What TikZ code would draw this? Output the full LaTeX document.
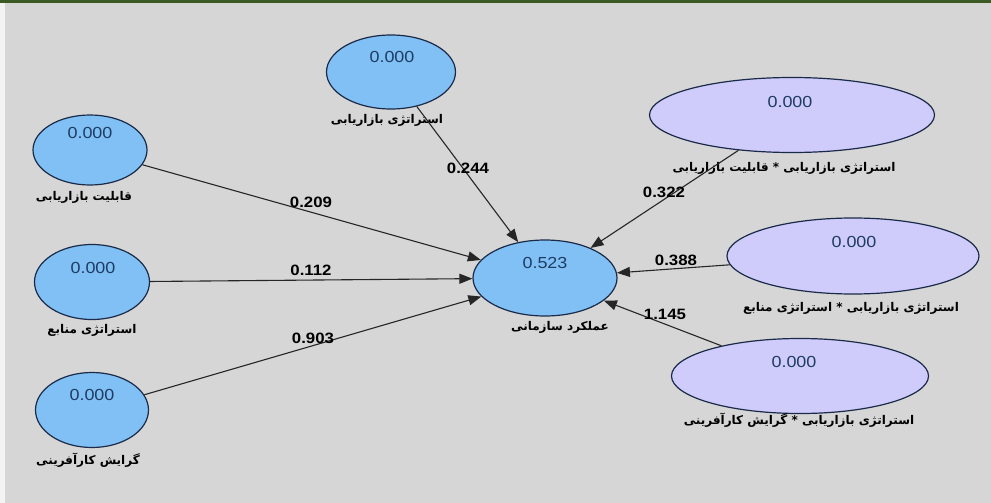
\documentclass[tikz,border=0pt]{standalone}
\usepackage{fontspec}
\usetikzlibrary{shapes.geometric,arrows.meta}
\TeXXeTstate=1
\newfontfamily\numfont[FakeStretch=1.12]{Liberation Sans}
\newfontfamily\fafont[Script=Arabic]{DejaVu Sans}
\definecolor{bgcol}{HTML}{D6D6D6}
\definecolor{bandcol}{HTML}{3B5A26}
\definecolor{lvblue}{HTML}{80C0F4}
\definecolor{lvlav}{HTML}{CFCBFA}
\definecolor{lvline}{HTML}{1B2A48}
\definecolor{valcol}{HTML}{1F3C64}
\tikzset{
  latent/.style={ellipse, draw=lvline, line width=1.2pt, inner sep=0pt},
  blue lv/.style={latent, fill=lvblue},
  lav lv/.style={latent, fill=lvlav},
  valtext/.style={font=\numfont\fontsize{16}{18}\selectfont, text=valcol, inner sep=0pt},
  coeftext/.style={font=\numfont\bfseries\fontsize{15}{17}\selectfont, text=black, inner sep=0pt},
  falabel/.style={font=\fafont\bfseries\fontsize{12}{14}\selectfont, text=black, inner sep=0pt},
  coefarrow/.style={draw=black!85, line width=1.1pt, -{Triangle[length=13pt,width=10pt]}},
}
\begin{document}
\begin{tikzpicture}[x=1pt,y=-1pt]
% canvas
\fill[bgcol] (0,0) rectangle (991,503);
\fill[white!70!bgcol] (0,3) rectangle (5,503);
\fill[bandcol] (0,0) rectangle (991,3);
\useasboundingbox (0,0) rectangle (991,503);

% latent variables
\node[blue lv, minimum width=129pt, minimum height=74pt] (ms) at (391,72) {};
\node[blue lv, minimum width=114pt, minimum height=70pt] (mc) at (90,150) {};
\node[blue lv, minimum width=115pt, minimum height=75pt] (rs) at (92,282) {};
\node[blue lv, minimum width=113pt, minimum height=75pt] (eo) at (92,410) {};
\node[blue lv, minimum width=144pt, minimum height=76pt] (op) at (545,278) {};
\node[lav lv, minimum width=285pt, minimum height=75pt] (msmc) at (792,115) {};
\node[lav lv, minimum width=252pt, minimum height=76pt] (msrs) at (853,256) {};
\node[lav lv, minimum width=257pt, minimum height=75pt] (mseo) at (800,376) {};

% R-square values
\node[valtext] (vms) at (392,57) {0.000};
\node[valtext] (vmc) at (90,133) {0.000};
\node[valtext] (vrs) at (93,268) {0.000};
\node[valtext] (veo) at (92,395) {0.000};
\node[valtext] (vop) at (545,263) {0.523};
\node[valtext] (vmsmc) at (790,102) {0.000};
\node[valtext] (vmsrs) at (854,242) {0.000};
\node[valtext] (vmseo) at (794,362) {0.000};

% construct names
\node[falabel] (lms) at (387,120) {\beginR استراتژی بازاریابی\endR};
\node[falabel] (lmc) at (84,197) {\beginR قابلیت بازاریابی\endR};
\node[falabel] (lrs) at (92,330) {\beginR استراتژی منابع\endR};
\node[falabel] (leo) at (88,460) {\beginR گرایش کارآفرینی\endR};
\node[falabel] (lop) at (560,327) {\beginR عملکرد سازمانی\endR};
\node[falabel] (lmsmc) at (784,168) {\beginR استراتژی بازاریابی * قابلیت بازاریابی\endR};
\node[falabel] (lmsrs) at (851,308) {\beginR استراتژی بازاریابی * استراتژی منابع\endR};
\node[falabel] (lmseo) at (799,420) {\beginR استراتژی بازاریابی * گرایش کارآفرینی\endR};

% path coefficients
\draw[coefarrow] (ms) -- (op);
\draw[coefarrow] (mc) -- (op);
\draw[coefarrow] (rs) -- (op);
\draw[coefarrow] (eo) -- (op);
\draw[coefarrow] (msmc) -- (op);
\draw[coefarrow] (msrs) -- (op);
\draw[coefarrow] (mseo) -- (op);

\node[coeftext] (cms) at (468,168) {0.244};
\node[coeftext] (cmc) at (311,202) {0.209};
\node[coeftext] (crs) at (311,270) {0.112};
\node[coeftext] (ceo) at (313,338) {0.903};
\node[coeftext] (cmsmc) at (664,192) {0.322};
\node[coeftext] (cmsrs) at (676,260) {0.388};
\node[coeftext] (cmseo) at (665,314) {1.145};
\end{tikzpicture}
\end{document}
